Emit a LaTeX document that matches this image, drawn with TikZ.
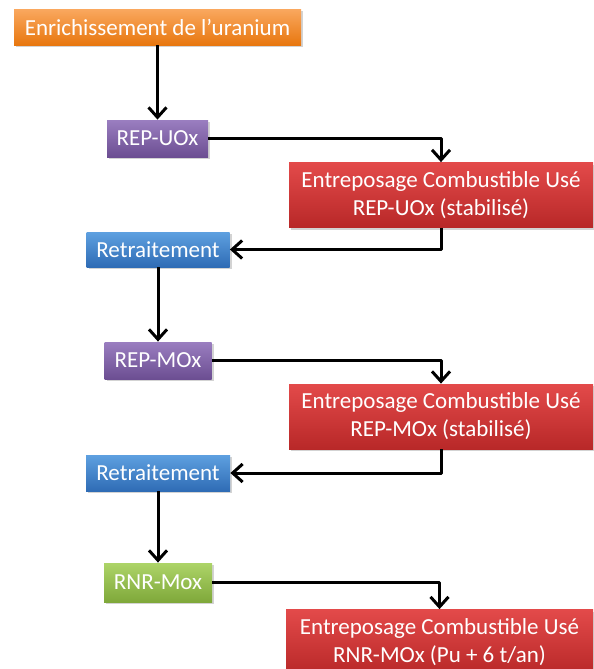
\documentclass[tikz,border=0pt]{standalone}
\usepackage{fontspec}
\setmainfont{Carlito}
\usetikzlibrary{arrows.meta,shadows}
\definecolor{orT}{HTML}{FAA85F}\definecolor{orB}{HTML}{E8770F}
\definecolor{puT}{HTML}{9A7EC0}\definecolor{puB}{HTML}{6C4E92}
\definecolor{reT}{HTML}{E34A4A}\definecolor{reB}{HTML}{B82828}
\definecolor{blT}{HTML}{5EA0E0}\definecolor{blB}{HTML}{2F6CB5}
\definecolor{grT}{HTML}{ADD468}\definecolor{grB}{HTML}{7FA83A}
\begin{document}
\begin{tikzpicture}[x=0.5pt, y=-0.5pt, font=\fontsize{11.5}{14}\selectfont, line join=round,
		>={Straight Barb[length=5pt,width=9pt]},
		box/.style={text=white, align=center, inner sep=0pt,
			drop shadow={shadow xshift=1pt, shadow yshift=-1pt, opacity=.35}},
		fl/.style={line width=1.5pt, ->}]
	\useasboundingbox (0,0) rectangle (594,669);
	%\draw[gray!10] (0,0) grid[step=50] (594,669);
	\node[box, top color=orT, bottom color=orB, minimum width=143.5pt, minimum height=18pt] (E) at (157.5,27) {Enrichissement de l’uranium};
	\node[box, top color=puT, bottom color=puB, minimum width=50.5pt, minimum height=18.5pt] (U) at (157.5,138.5) {REP-UOx};
	\node[box, top color=reT, bottom color=reB, minimum width=152pt, minimum height=32.5pt] (S) at (441,195) {Entreposage Combustible Usé\\REP-UOx (stabilisé)};
	\node[box, top color=blT, bottom color=blB, minimum width=71.5pt, minimum height=17.5pt] (R) at (158,249.5) {Retraitement};
	\node[box, top color=puT, bottom color=puB, minimum width=53.5pt, minimum height=18.5pt] (M) at (158,360.5) {REP-MOx};
	\node[box, top color=reT, bottom color=reB, minimum width=152pt, minimum height=32.5pt] (S') at (441,416.5) {Entreposage Combustible Usé\\REP-MOx (stabilisé)};
	\node[box, top color=blT, bottom color=blB, minimum width=72pt, minimum height=18pt] (R') at (158,473) {Retraitement};
	\node[box, top color=grT, bottom color=grB, minimum width=54pt, minimum height=19.5pt] (N) at (158,582.5) {RNR-Mox};
	\node[box, top color=reT, bottom color=reB, minimum width=153.5pt, minimum height=32.5pt] (T) at (439.5,642) {Entreposage Combustible Usé\\RNR-MOx (Pu + 6 t/an)};
	% fleches
	\draw[fl] (E)--(U); \draw[fl] (U.east)-|(S.north);
	\draw[fl] (S.south)|-(R.east); \draw[fl] (R)--(M);
	\draw[fl] (M.east)-|(S'.north); \draw[fl] (S'.south)|-(R'.east);
	\draw[fl] (R')--(N); \draw[fl] (N.east)-|(T.north);
\end{tikzpicture}
\end{document}
